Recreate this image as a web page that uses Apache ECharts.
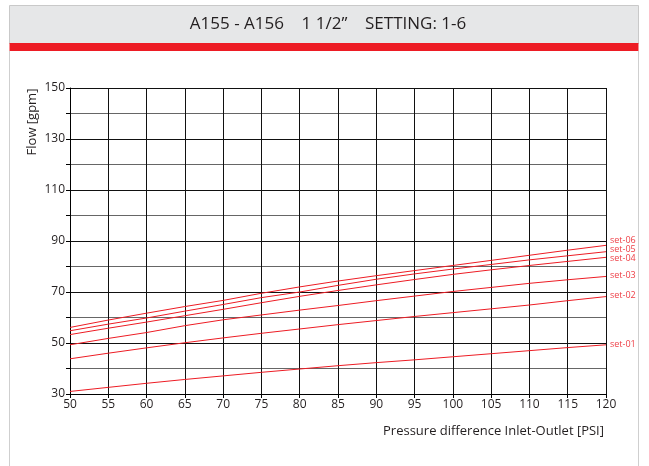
<!DOCTYPE html>
<html><head><meta charset="utf-8">
<script src="https://cdn.jsdelivr.net/npm/echarts@6/dist/echarts.min.js"></script>
<style>html,body{margin:0;padding:0;background:#fff}#c{width:649px;height:466px}</style>
</head><body><div id="c"></div>
<script>
var titleText = 'A155 - A156    1 1/2\u201d    SETTING: 1-6';
var xName = 'Pressure difference Inlet-Outlet [PSI]';
var yName = 'Flow [gpm]';
var pressure = [50,55,60,65,70,75,80,85,90,95,100,105,110,115,120];
var seriesNames = ['set-01','set-02','set-03','set-04','set-05','set-06'];
var set01 = [31.0,32.6,34.2,35.7,37.1,38.5,39.8,41.1,42.3,43.4,44.6,45.8,47.0,48.2,49.3];
var set02 = [43.8,46.0,48.1,50.1,52.0,53.8,55.5,57.2,58.8,60.4,61.9,63.4,64.9,66.6,68.2];
var set03 = [49.3,51.8,54.1,56.8,59.1,61.0,62.9,64.7,66.6,68.4,70.2,71.8,73.4,74.8,76.1];
var set04 = [53.3,55.8,58.2,60.7,63.2,65.8,68.3,70.6,72.8,74.9,76.9,78.7,80.4,82.0,83.6];
var set05 = [54.8,57.4,59.8,62.5,65.1,67.8,70.0,72.6,75.0,77.1,79.0,80.8,82.6,84.2,85.8];
var set06 = [56.1,59.0,61.7,64.3,66.7,69.5,72.0,74.3,76.4,78.4,80.4,82.4,84.4,86.4,88.3];
var allSets = [set01,set02,set03,set04,set05,set06];
var labelOffsets = [[2,0],[2,-1],[2,-1],[2,1],[2,-2],[2,-5]];

var chart = echarts.init(document.getElementById('c'), null, {renderer:'canvas'});
var red = '#ed1c24';
var series = allSets.map(function(vals, i){
  return {
    name: seriesNames[i], type:'line', showSymbol:false, silent:true,
    data: pressure.map(function(p,j){return [p, vals[j]];}),
    lineStyle:{color:red, width:1},
    endLabel:{show:true, formatter: seriesNames[i], color:'#ee3e45', fontSize:9,
      fontFamily:'Open Sans', distance:2, offset: labelOffsets[i]}
  };
});
chart.setOption({
  animation:false,
  grid:{left:70, right:43, top:88, bottom:72},
  graphic:[
    {type:'rect', shape:{x:9.5,y:5.5,width:629,height:38}, style:{fill:'#e6e7e8', stroke:'#c9c9c9', lineWidth:1}},
    {type:'rect', shape:{x:9.5,y:43,width:629,height:8}, style:{fill:'#ed1c24'}},
    {type:'line', shape:{x1:9.5,y1:51,x2:9.5,y2:466}, style:{stroke:'#cfcfcf', lineWidth:1}},
    {type:'line', shape:{x1:638.5,y1:51,x2:638.5,y2:466}, style:{stroke:'#cfcfcf', lineWidth:1}},
    {type:'text', x:328, y:24, style:{text:titleText, fontSize:17, fontFamily:'Open Sans', fill:'#231f20', align:'center', verticalAlign:'middle'}},
    {type:'text', x:604, y:431, style:{text:xName, fontSize:13, fontFamily:'Open Sans', fill:'#231f20', align:'right', verticalAlign:'middle'}},
    {type:'text', x:32, y:122, rotation:Math.PI/2, style:{text:yName, fontSize:13, fontFamily:'Open Sans', fill:'#231f20', align:'center', verticalAlign:'middle'}}
  ],
  xAxis:{type:'value', min:50, max:120, interval:5,
    axisLine:{lineStyle:{color:'#000', width:1}},
    axisTick:{show:true, length:4, lineStyle:{color:'#000'}},
    axisLabel:{color:'#231f20', fontSize:12, fontFamily:'Open Sans', margin:5},
    splitLine:{show:true, lineStyle:{color:'#111', width:1}}
  },
  yAxis:{type:'value', min:30, max:150, interval:10,
    axisLine:{show:true, lineStyle:{color:'#000', width:1}},
    axisTick:{show:true, length:4, lineStyle:{color:'#000'}},
    axisLabel:{color:'#231f20', fontSize:12, fontFamily:'Open Sans', margin:5,
      formatter:function(v){return ((v-30)%20===0)?String(v):'';}},
    splitLine:{show:true, lineStyle:{color:['#111','#666'], width:1}}
  },
  series: series
});
</script></body></html>
